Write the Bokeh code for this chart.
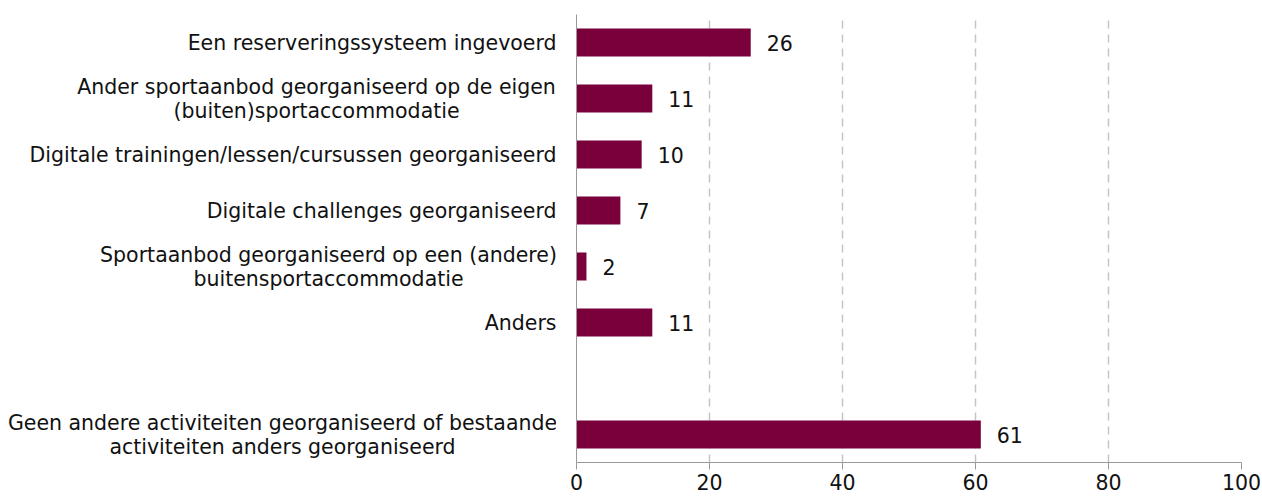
from bokeh.plotting import figure
from bokeh.models import FactorRange, Range1d, ColumnDataSource, FixedTicker
from bokeh.layouts import row
from bokeh.embed import file_html
from bokeh.resources import INLINE
from bokeh.core.properties import value

categories = [
    "Een reserveringssysteem ingevoerd",
    "Ander sportaanbod georganiseerd op de eigen\n(buiten)sportaccommodatie",
    "Digitale trainingen/lessen/cursussen georganiseerd",
    "Digitale challenges georganiseerd",
    "Sportaanbod georganiseerd op een (andere)\nbuitensportaccommodatie",
    "Anders",
    " ",
    "Geen andere activiteiten georganiseerd of bestaande\nactiviteiten anders georganiseerd",
]
values = [26.2, 11.4, 9.8, 6.6, 1.5, 11.4, None, 60.8]
labels = ["26", "11", "10", "7", "2", "11", "", "61"]
x_ticks = [0, 20, 40, 60, 80, 100]

FONT = "DejaVu Sans"
FS = "20.5px"
BAR = "#7a003c"
TXT = "#111111"

cats = [c for c, v in zip(categories, values) if v is not None]
vals = [v for v in values if v is not None]
labs = [l for l, v in zip(labels, values) if v is not None]
src = ColumnDataSource(dict(cat=cats, val=vals, lab=labs))

y_range = FactorRange(factors=list(reversed(categories)), range_padding=0)

# ---- left panel: category labels (pixel-coordinate panel) ----
LW = 556
two_line_centres = {  # horizontal centre (px) of the centred two-line label blocks
    categories[1]: 316,
    categories[4]: 328,
    categories[7]: 282,
}
single = [c for c in categories if c.strip() and c not in two_line_centres]
multi = [c for c in categories if c in two_line_centres]
src_single = ColumnDataSource(dict(cat=single, x=[LW] * len(single)))
src_multi = ColumnDataSource(dict(cat=multi, x=[two_line_centres[c] for c in multi]))

pl = figure(width=LW, height=498, output_backend="svg", toolbar_location=None,
            x_range=Range1d(0, LW), y_range=y_range)
pl.min_border_left = 0
pl.min_border_right = 0
pl.min_border_top = 14
pl.min_border_bottom = 36
pl.outline_line_color = None
pl.axis.visible = False
pl.grid.visible = False
pl.text(x="x", y="cat", text="cat", source=src_single, text_align="right",
        text_baseline="middle", text_font=value(FONT), text_font_size=FS, text_color=TXT)
pl.text(x="x", y="cat", text="cat", source=src_multi, text_align="center",
        text_baseline="middle", text_font=value(FONT), text_font_size=FS, text_color=TXT,
        text_line_height=1.0)

# ---- main panel: bars ----
p = figure(width=706, height=498, output_backend="svg", toolbar_location=None,
           y_range=y_range, x_range=Range1d(0, 100))
p.min_border_left = 20
p.min_border_right = 21
p.min_border_top = 14
p.min_border_bottom = 36
p.outline_line_color = None

p.hbar(y="cat", right="val", left=0, height=0.5, source=src, fill_color=BAR, line_color=None)
p.text(x="val", y="cat", text="lab", source=src, x_offset=16, text_align="left",
       text_baseline="middle", text_font=value(FONT), text_font_size=FS, text_color=TXT)

p.xaxis.ticker = FixedTicker(ticks=x_ticks)
p.xaxis.axis_line_color = "#999999"
p.xaxis.major_tick_line_color = "#999999"
p.xaxis.major_tick_out = 7
p.xaxis.major_tick_in = 0
p.xaxis.minor_tick_line_color = None
p.xaxis.major_label_text_font = FONT
p.xaxis.major_label_text_font_size = FS
p.xaxis.major_label_text_color = TXT
p.xaxis.major_label_standoff = 4

p.yaxis.axis_line_color = "#999999"
p.yaxis.major_tick_line_color = None
p.yaxis.minor_tick_line_color = None
p.yaxis.major_tick_out = 0
p.yaxis.major_tick_in = 0
p.yaxis.major_label_standoff = 0
p.yaxis.major_label_text_font_size = "0px"
p.yaxis.major_label_text_alpha = 0

p.ygrid.grid_line_color = None
p.xgrid.grid_line_color = "#c4c4c4"
p.xgrid.grid_line_dash = "8 6"
p.xgrid.grid_line_width = 1.5

layout = row(pl, p, spacing=0)
open("out.html", "w").write(file_html(layout, INLINE))
